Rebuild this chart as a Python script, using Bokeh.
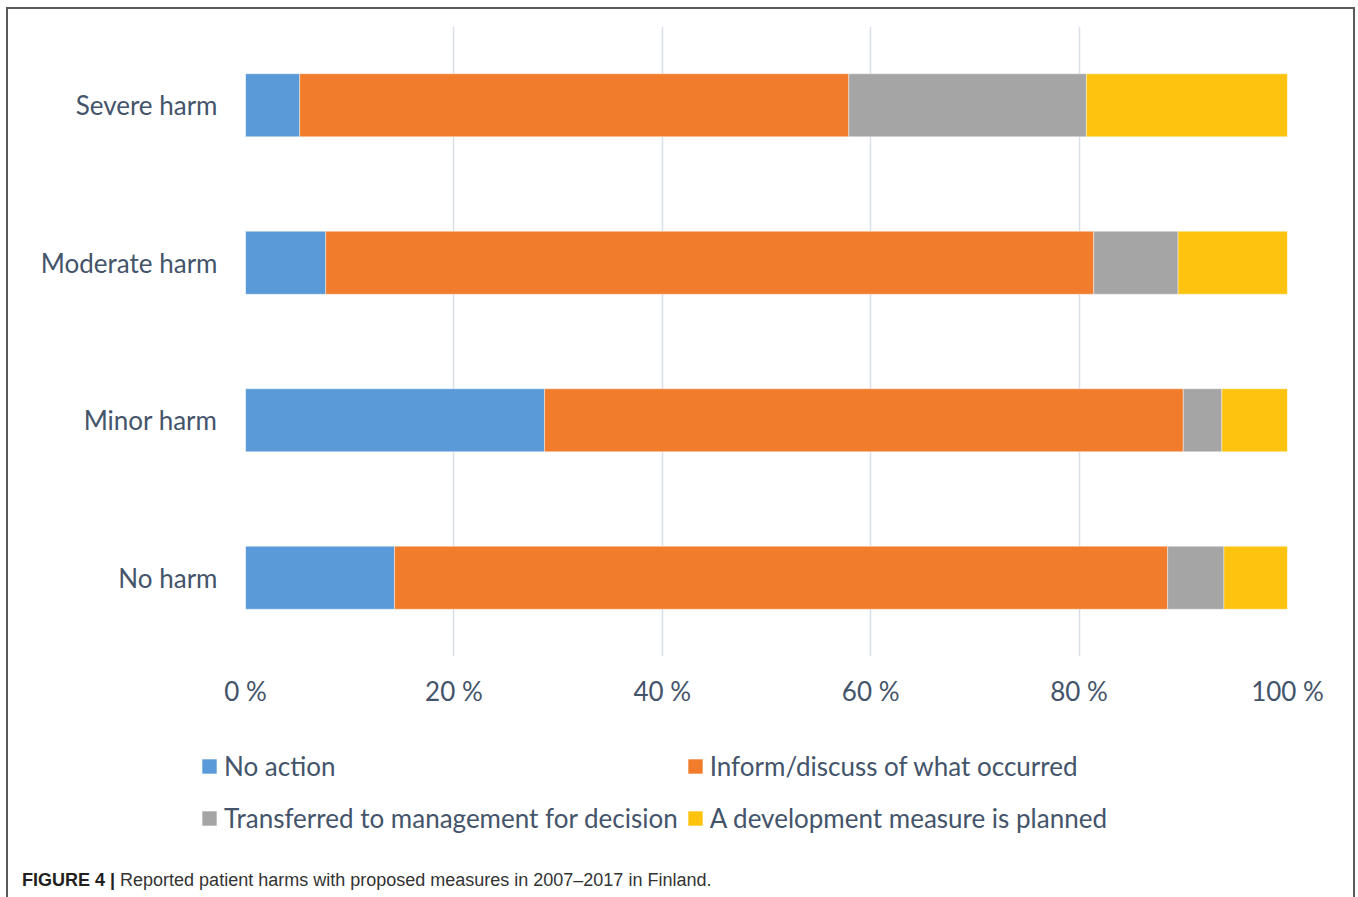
from bokeh.plotting import figure
from bokeh.models import (ColumnDataSource, FactorRange, Range1d, FixedTicker,
                          Legend, LegendItem, Div, Column)
from bokeh.embed import file_html
from bokeh.resources import INLINE

# ---- data ----
categories = ["No harm", "Minor harm", "Moderate harm", "Severe harm"]
series = ["No action", "Inform/discuss of what occurred",
          "Transferred to management for decision", "A development measure is planned"]
no_action = [14.3, 28.7, 7.7, 5.2]
inform = [74.2, 61.3, 73.7, 52.7]
transferred = [5.4, 3.7, 8.1, 22.8]
development = [6.1, 6.3, 10.5, 19.3]
x_ticks = [0, 20, 40, 60, 80, 100]
x_tick_labels = ["0 %", "20 %", "40 %", "60 %", "80 %", "100 %"]
colors = ["#5a9ad8", "#f07c2c", "#a5a5a5", "#fdc30e"]
caption_bold = "FIGURE 4 |"
caption_text = "Reported patient harms with proposed measures in 2007\u20132017 in Finland."

FONT = "Lato"
TXT = "#44546a"

keys = ["s0", "s1", "s2", "s3"]
src = ColumnDataSource(dict(cat=categories, s0=no_action, s1=inform, s2=transferred, s3=development))

# ---- main chart ----
p = figure(width=1345, height=726, y_range=FactorRange(*categories), x_range=Range1d(0, 100),
           output_backend="svg", toolbar_location=None, min_border=0)
p.min_border_left = 237
p.min_border_right = 66
p.min_border_top = 17
p.min_border_bottom = 79
p.outline_line_color = None
p.background_fill_color = "white"
p.border_fill_color = "white"

renderers = p.hbar_stack(keys, y="cat", height=0.4, fill_color=colors, line_color="white",
                         line_width=0.6, line_alpha=0.7, source=src)

p.xaxis.ticker = FixedTicker(ticks=x_ticks)
p.xaxis.major_label_overrides = {t: l for t, l in zip(x_ticks, x_tick_labels)}
for ax in (p.xaxis, p.yaxis):
    ax.axis_line_color = None
    ax.major_tick_line_color = None
    ax.minor_tick_line_color = None
    ax.major_tick_out = 0
    ax.major_tick_in = 0
    ax.minor_tick_out = 0
    ax.major_label_text_font = FONT
    ax.major_label_text_font_size = "26px"
    ax.major_label_text_color = TXT
p.xaxis.major_label_standoff = 18
p.yaxis.major_label_standoff = 28

p.ygrid.grid_line_color = None
p.xgrid.grid_line_color = "#d9dee8"
p.xgrid.grid_line_width = 1.5

# ---- legend strip: legend swatches come from zero-height copies of the series ----
p2 = figure(width=1345, height=127, y_range=FactorRange(*categories), x_range=Range1d(200, 300),
            output_backend="svg", toolbar_location=None, min_border=0,
            x_axis_location=None, y_axis_location=None)
p2.outline_line_color = None
p2.grid.visible = False
try:
    p2.frame_align = False
except AttributeError:
    pass
leg_renderers = p2.hbar_stack(keys, y="cat", height=0, fill_color=colors, line_color=None,
                              source=src)
legend = Legend(items=[LegendItem(label=s, renderers=[r]) for s, r in zip(series, leg_renderers)],
                ncols=2, orientation="horizontal", location=(192, 22), padding=0, margin=0,
                spacing=8, glyph_width=18, glyph_height=18, label_standoff=6, label_height=44,
                label_text_font=FONT, label_text_font_size="26px", label_text_color=TXT,
                border_line_color=None, background_fill_alpha=0)
p2.add_layout(legend)

# ---- caption ----
cap = Div(width=1345, height=30,
          text=('<div style="padding:2px 0 0 9px; font-family:\'Liberation Sans\'; font-size:18px;'
                ' line-height:22px; color:#333333; white-space:nowrap;">'
                '<b style="color:#231f20;">' + caption_bold + '</b> ' + caption_text + '</div>'))

layout = Column(children=[p, p2, cap], spacing=0, width=1349,
                styles={"border-left": "2px solid #5a5a5a", "border-right": "2px solid #5a5a5a",
                        "border-top": "2px solid #5a5a5a", "margin-left": "6px", "margin-top": "7px"})

open("out.html", "w").write(file_html(layout, INLINE))
